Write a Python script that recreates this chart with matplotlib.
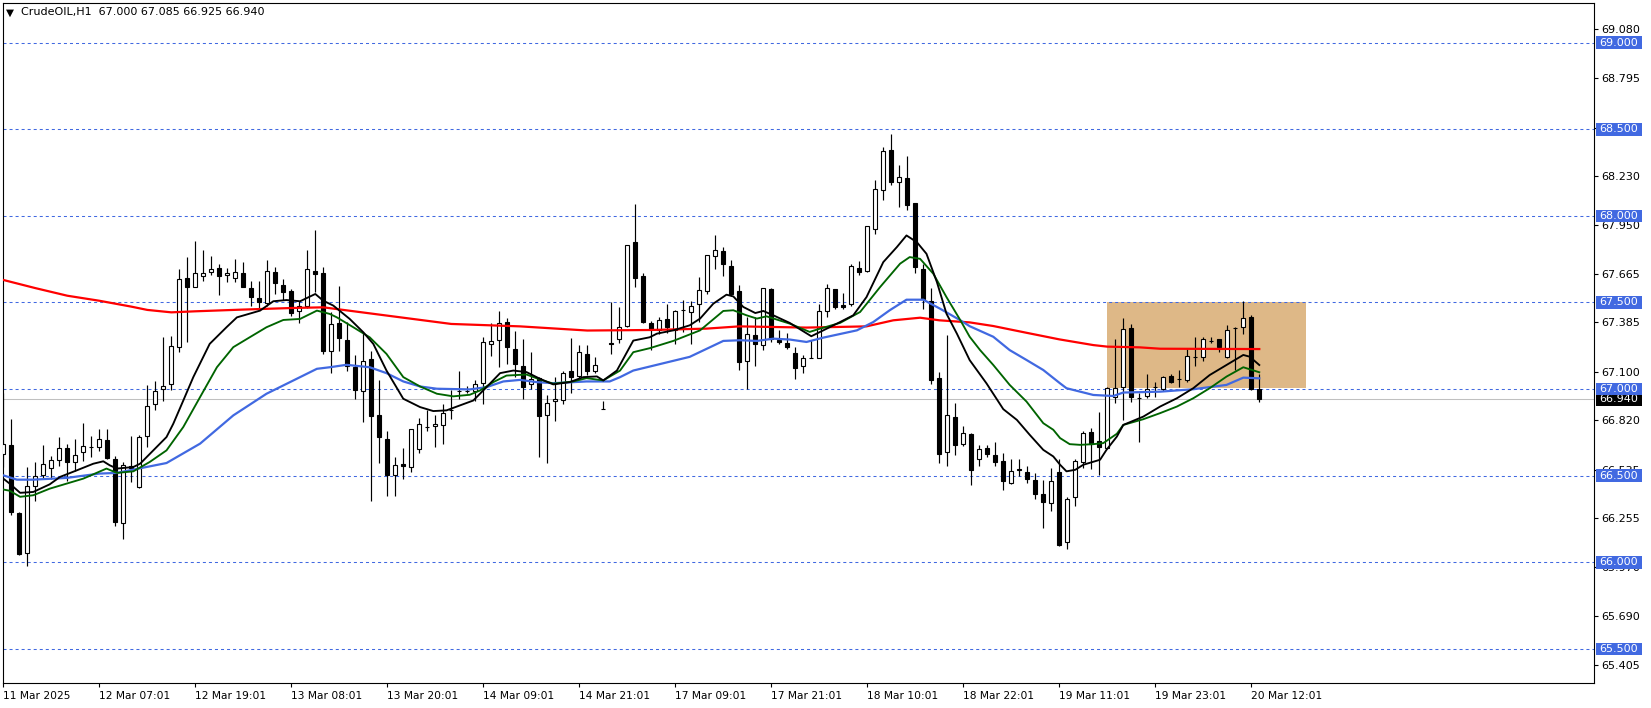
"""CrudeOIL H1 candlestick chart with moving averages, MT4 style."""
import matplotlib
matplotlib.use("Agg")
import matplotlib.pyplot as plt
import matplotlib.transforms as mtransforms
from matplotlib.patches import Rectangle
import numpy as np

# hourly bars, oldest first (11 Mar 19:01 .. 20 Mar 13:01)
OPEN = [66.623, 66.675, 66.285, 66.051, 66.439, 66.504, 66.547, 66.589, 66.658, 66.579,
        66.635, 66.664, 66.667, 66.708, 66.596, 66.224, 66.556, 66.435, 66.731, 66.915,
        66.998, 67.027, 67.245, 67.641, 67.587, 67.652, 67.677, 67.699, 67.660, 67.639,
        67.672, 67.583, 67.526, 67.499, 67.677, 67.603, 67.568, 67.453, 67.482, 67.683,
        67.670, 67.219, 67.382, 67.284, 67.126, 66.988, 67.174, 66.848, 66.710, 66.502,
        66.569, 66.550, 66.654, 66.781, 66.787, 66.794, 66.881, 66.988, 66.988, 66.986,
        67.034, 67.261, 67.284, 67.387, 67.232, 67.134, 67.027, 67.065, 66.852, 66.932,
        66.938, 67.103, 67.076, 67.203, 67.105, 66.886, 67.265, 67.290, 67.362, 67.852,
        67.651, 67.384, 67.343, 67.407, 67.343, 67.455, 67.445, 67.489, 67.566, 67.770,
        67.795, 67.712, 67.564, 67.163, 67.314, 67.257, 67.579, 67.286, 67.268, 67.211,
        67.132, 67.180, 67.182, 67.449, 67.579, 67.487, 67.489, 67.699, 67.681, 67.925,
        68.150, 68.380, 68.194, 68.219, 68.073, 67.695, 67.508, 67.065, 66.639, 66.836,
        66.684, 66.742, 66.596, 66.659, 66.617, 66.586, 66.457, 66.540, 66.524, 66.477,
        66.394, 66.342, 66.521, 66.116, 66.377, 66.578, 66.755, 66.703, 66.659, 66.957,
        67.014, 67.350, 66.951, 66.960, 67.014, 67.000, 67.076, 67.056, 67.053, 67.183,
        67.183, 67.279, 67.287, 67.183, 67.350, 67.356, 67.414, 67.000]
HIGH = [66.980, 66.825, 66.290, 66.550, 66.579, 66.679, 66.612, 66.721, 66.685, 66.714,
        66.806, 66.731, 66.769, 66.769, 66.614, 66.579, 66.731, 66.733, 67.026, 67.044,
        67.303, 67.305, 67.693, 67.764, 67.856, 67.804, 67.768, 67.722, 67.700, 67.750,
        67.735, 67.626, 67.626, 67.745, 67.706, 67.635, 67.578, 67.510, 67.802, 67.917,
        67.706, 67.443, 67.597, 67.386, 67.194, 67.328, 67.222, 67.050, 66.758, 66.608,
        66.660, 66.771, 66.835, 66.880, 66.852, 66.915, 66.996, 67.107, 67.020, 67.053,
        67.299, 67.382, 67.453, 67.409, 67.337, 67.288, 67.215, 67.069, 66.963, 67.069,
        67.107, 67.295, 67.257, 67.255, 67.184, 66.930, 67.501, 67.472, 67.831, 68.067,
        67.670, 67.393, 67.416, 67.489, 67.455, 67.516, 67.507, 67.647, 67.775, 67.887,
        67.820, 67.747, 67.599, 67.416, 67.416, 67.585, 67.585, 67.340, 67.326, 67.243,
        67.195, 67.282, 67.489, 67.604, 67.580, 67.556, 67.724, 67.737, 67.944, 68.209,
        68.396, 68.472, 68.294, 68.348, 68.073, 67.720, 67.585, 67.100, 67.311, 66.917,
        66.788, 66.749, 66.678, 66.678, 66.694, 66.630, 66.596, 66.596, 66.553, 66.515,
        66.477, 66.544, 66.596, 66.377, 66.596, 66.759, 66.774, 66.870, 67.014, 67.287,
        67.408, 67.375, 66.976, 67.085, 67.043, 67.076, 67.085, 67.110, 67.229, 67.298,
        67.298, 67.298, 67.287, 67.370, 67.360, 67.508, 67.427, 67.085]
LOW = [66.550, 66.272, 66.040, 65.980, 66.354, 66.479, 66.483, 66.556, 66.470, 66.527,
       66.585, 66.606, 66.640, 66.598, 66.210, 66.132, 66.464, 66.430, 66.666, 66.877,
       66.934, 66.996, 67.213, 67.270, 67.587, 67.626, 67.660, 67.541, 67.620, 67.620,
       67.587, 67.480, 67.470, 67.480, 67.549, 67.514, 67.420, 67.380, 67.470, 67.558,
       67.203, 67.092, 67.220, 67.103, 66.940, 66.810, 66.354, 66.573, 66.383, 66.385,
       66.483, 66.519, 66.631, 66.760, 66.665, 66.681, 66.830, 66.944, 66.975, 66.934,
       66.911, 67.190, 67.126, 67.146, 67.067, 66.940, 67.002, 66.608, 66.573, 66.815,
       66.915, 66.980, 67.060, 67.080, 67.092, 66.886, 67.203, 67.265, 67.360, 67.591,
       67.382, 67.224, 67.320, 67.326, 67.263, 67.330, 67.263, 67.387, 67.550, 67.695,
       67.652, 67.540, 67.113, 66.998, 67.134, 67.224, 67.272, 67.263, 67.234, 67.061,
       67.094, 67.180, 67.180, 67.416, 67.464, 67.464, 67.480, 67.656, 67.675, 67.896,
       68.092, 68.180, 68.050, 68.031, 67.670, 67.464, 67.032, 66.575, 66.558, 66.619,
       66.672, 66.446, 66.553, 66.607, 66.553, 66.415, 66.450, 66.496, 66.457, 66.365,
       66.198, 66.294, 66.092, 66.077, 66.327, 66.544, 66.540, 66.505, 66.659, 66.918,
       66.822, 66.928, 66.692, 66.947, 66.957, 66.990, 67.033, 67.014, 67.040, 67.135,
       67.164, 67.264, 67.216, 67.180, 67.110, 67.318, 66.995, 66.925]
CLOSE = [66.685, 66.291, 66.045, 66.443, 66.500, 66.569, 66.593, 66.662, 66.579, 66.621,
         66.671, 66.664, 66.713, 66.602, 66.230, 66.562, 66.545, 66.723, 66.902, 66.986,
         67.019, 67.251, 67.635, 67.591, 67.670, 67.668, 67.693, 67.650, 67.672, 67.677,
         67.587, 67.530, 67.500, 67.683, 67.610, 67.560, 67.439, 67.482, 67.693, 67.664,
         67.219, 67.376, 67.293, 67.136, 66.996, 67.163, 66.844, 66.723, 66.502, 66.564,
         66.556, 66.767, 66.800, 66.781, 66.800, 66.863, 66.881, 66.988, 66.988, 67.030,
         67.272, 67.278, 67.382, 67.242, 67.144, 67.011, 67.059, 66.844, 66.919, 66.944,
         67.094, 67.069, 67.213, 67.103, 67.140, 66.886, 67.258, 67.357, 67.831, 67.639,
         67.387, 67.345, 67.401, 67.359, 67.451, 67.455, 67.478, 67.574, 67.775, 67.804,
         67.724, 67.547, 67.157, 67.320, 67.263, 67.585, 67.291, 67.272, 67.243, 67.119,
         67.182, 67.180, 67.451, 67.585, 67.474, 67.474, 67.708, 67.676, 67.939, 68.156,
         68.372, 68.194, 68.223, 68.065, 67.704, 67.518, 67.055, 66.625, 66.850, 66.677,
         66.745, 66.530, 66.653, 66.624, 66.578, 66.467, 66.528, 66.530, 66.482, 66.394,
         66.348, 66.471, 66.102, 66.367, 66.586, 66.745, 66.682, 66.663, 67.005, 67.005,
         67.344, 66.953, 66.951, 67.000, 67.014, 67.072, 67.043, 67.056, 67.193, 67.183,
         67.287, 67.279, 67.241, 67.341, 67.350, 67.408, 66.999, 66.940]

# moving averages (bar index, price)
RED_X = [0, 4, 8, 12, 16, 18, 21, 24, 30, 36, 40, 48, 56, 64.6, 73, 80.8, 87.9, 92,
         100.4, 107.9, 111.25, 114.6, 117, 120.8, 123.75, 127.9, 132, 136.25, 138, 142,
         144.6, 157]
RED_Y = [67.630, 67.583, 67.539, 67.510, 67.476, 67.457, 67.443, 67.449, 67.459, 67.468,
         67.472, 67.424, 67.376, 67.362, 67.338, 67.341, 67.349, 67.362, 67.355, 67.362,
         67.397, 67.412, 67.397, 67.385, 67.364, 67.325, 67.287, 67.254, 67.245, 67.241,
         67.233, 67.231]

BLUE_X = [0, 1.7, 3.75, 7.9, 12, 14.2, 16.25, 20.4, 24.6, 28.75, 32.9, 37.1, 39.2, 40.8,
          42.9, 45.8, 47.9, 50, 52.1, 54.2, 58.3, 60.4, 62.5, 64.6, 66.7, 68.75, 72.9,
          75.8, 77.1, 78.75, 80.8, 85.8, 90, 92.1, 94.2, 96.25, 98.3, 100.4, 102.5, 106.7,
          108.75, 110.8, 112.9, 115, 117.1, 119.6, 120.8, 123.75, 125.8, 127.9, 130, 132.1,
          132.9, 136.25, 138.75, 140, 144.6, 148.75, 152.9, 155, 157]
BLUE_Y = [66.502, 66.477, 66.477, 66.487, 66.512, 66.516, 66.535, 66.573, 66.685, 66.848,
          66.973, 67.069, 67.117, 67.126, 67.140, 67.126, 67.092, 67.044, 67.015, 67.002,
          66.998, 67.011, 67.044, 67.053, 67.040, 67.034, 67.044, 67.044, 67.069, 67.107,
          67.130, 67.186, 67.278, 67.282, 67.278, 67.291, 67.286, 67.272, 67.297, 67.339,
          67.387, 67.455, 67.516, 67.516, 67.464, 67.398, 67.363, 67.302, 67.225, 67.168,
          67.110, 67.033, 67.005, 66.966, 66.960, 66.980, 66.985, 66.999, 67.024, 67.066,
          67.062]

GREEN_X = [0, 0.8, 2.1, 3.75, 5.8, 7.9, 10, 12.1, 12.9, 14.2, 16.25, 18.3, 20.4, 22.5,
           24.6, 26.7, 28.75, 30.8, 32.9, 35, 37.1, 39.2, 40.8, 41.7, 43.75, 45.8, 47.9,
           50, 52.1, 54.2, 56.25, 58.3, 59.6, 61.25, 62.9, 65.4, 67.1, 68.75, 71.25, 72.9,
           75, 77.1, 78.75, 80.8, 83.75, 87.1, 90, 91.25, 92.9, 94.2, 95.4, 98.3, 100.8,
           102.1, 104.6, 107.1, 109.6, 112.1, 113.3, 114.6, 116.25, 117.9, 119.6, 120.8,
           122.1, 123.75, 125.8, 127.9, 130, 131.25, 132.1, 133.3, 134.6, 136.25, 137.5,
           139.2, 140, 142.5, 144.6, 146.7, 148.75, 150.8, 152.9, 155, 157]
GREEN_Y = [66.420, 66.413, 66.378, 66.387, 66.425, 66.454, 66.483, 66.525, 66.541, 66.516,
           66.525, 66.579, 66.646, 66.781, 66.954, 67.126, 67.242, 67.299, 67.357, 67.399,
           67.405, 67.453, 67.434, 67.414, 67.357, 67.299, 67.203, 67.069, 67.015, 66.973,
           66.958, 66.967, 66.992, 67.040, 67.078, 67.084, 67.055, 67.031, 67.044, 67.063,
           67.050, 67.107, 67.213, 67.236, 67.278, 67.339, 67.451, 67.455, 67.426, 67.407,
           67.420, 67.378, 67.330, 67.349, 67.382, 67.445, 67.589, 67.724, 67.762, 67.752,
           67.666, 67.531, 67.400, 67.302, 67.225, 67.139, 67.024, 66.928, 66.803, 66.765,
           66.717, 66.682, 66.678, 66.682, 66.688, 66.742, 66.793, 66.826, 66.861, 66.899,
           66.947, 67.005, 67.072, 67.126, 67.097]

BLACK_X = [0, 0.8, 2.1, 3.75, 5.8, 7.1, 9.2, 11.25, 12.5, 13.3, 14.2, 16.25, 17.1, 18.75,
           20.4, 21.25, 22.5, 23.75, 25.8, 27.9, 29.2, 32.1, 33.75, 35.4, 37.1, 39, 40,
           41.25, 43.3, 45, 46.25, 47.9, 50, 52.1, 53.75, 55.4, 57.1, 58.75, 60.4, 62.1,
           63.75, 65.4, 67.1, 68.75, 70.8, 72.5, 74.2, 75, 76.7, 78.75, 80.8, 81.7, 83.75,
           85.8, 87.1, 88.75, 90.4, 91.25, 92.5, 94, 95, 96.25, 98.3, 101, 102.5, 104.6,
           106.25, 107.9, 110, 111.7, 112.9, 114.2, 115.4, 116.7, 117.9, 119.2, 120.8,
           122.9, 125, 126.7, 128.3, 130, 131.25, 132.1, 132.9, 134, 135, 137.1, 137.9,
           139.2, 140, 142.5, 144.6, 146.7, 148.75, 150.8, 152.9, 155, 155.8, 157]
BLACK_Y = [66.483, 66.454, 66.401, 66.406, 66.450, 66.493, 66.531, 66.569, 66.583, 66.560,
           66.541, 66.550, 66.569, 66.646, 66.723, 66.800, 66.934, 67.069, 67.261, 67.357,
           67.414, 67.453, 67.507, 67.514, 67.507, 67.549, 67.510, 67.482, 67.405, 67.328,
           67.261, 67.107, 66.944, 66.896, 66.873, 66.877, 66.906, 66.934, 67.011, 67.092,
           67.107, 67.098, 67.059, 67.027, 67.040, 67.069, 67.073, 67.050, 67.107, 67.280,
           67.299, 67.320, 67.339, 67.368, 67.407, 67.493, 67.545, 67.535, 67.474, 67.439,
           67.451, 67.426, 67.382, 67.305, 67.339, 67.387, 67.426, 67.531, 67.733, 67.820,
           67.887, 67.848, 67.781, 67.618, 67.435, 67.320, 67.167, 67.033, 66.884, 66.822,
           66.736, 66.649, 66.611, 66.563, 66.525, 66.534, 66.563, 66.592, 66.649, 66.726,
           66.793, 66.841, 66.899, 66.947, 67.005, 67.081, 67.139, 67.197, 67.187, 67.139]

TIME_TICKS = [0, 12, 24, 36, 48, 60, 72, 84, 96, 108, 120, 132, 144, 156]
TIME_LABELS = ["11 Mar 2025", "12 Mar 07:01", "12 Mar 19:01", "13 Mar 08:01",
               "13 Mar 20:01", "14 Mar 09:01", "14 Mar 21:01", "17 Mar 09:01",
               "17 Mar 21:01", "18 Mar 10:01", "18 Mar 22:01", "19 Mar 11:01",
               "19 Mar 23:01", "20 Mar 12:01"]
PRICE_TICKS = [69.080, 68.795, 68.510, 68.230, 67.950, 67.665, 67.385, 67.100,
               66.820, 66.535, 66.255, 65.970, 65.690, 65.405]
LEVELS = [69.0, 68.5, 68.0, 67.5, 67.0, 66.5, 66.0, 65.5]
BID = 66.940
HEADER = "CrudeOIL,H1  67.000 67.085 66.925 66.940"

W, H = 1651, 708
ROYAL = "#4169E1"

fig = plt.figure(figsize=(W / 100, H / 100), dpi=100)
fig.patch.set_facecolor("white")
ax = fig.add_axes([3 / W, 1 - 683 / H, 1591 / W, 680 / H])
ax.set_xlim(-0.0375, 198.84)
ax.set_ylim(65.303, 69.229)

# zone box (background)
ax.add_patch(Rectangle((137.95, 67.008), 24.85, 0.492, facecolor="#DEB887",
                       edgecolor="none", zorder=1))

for lv in LEVELS:
    ax.axhline(lv, color=ROYAL, lw=0.75, ls=(0, (2.9, 2.9)), zorder=1.6)
ax.axhline(BID, color="#C0C0C0", lw=0.75, zorder=1.5)

# candles
x = np.arange(len(OPEN))
o = np.array(OPEN)
c = np.array(CLOSE)
ax.vlines(x, LOW, HIGH, color="black", lw=0.85, zorder=2)
up = c >= o
ax.bar(x, np.abs(c - o), bottom=np.minimum(o, c), width=0.5,
       color=np.where(up, "white", "black"), edgecolor="black", linewidth=0.8, zorder=3)

# moving averages
ax.plot(RED_X, RED_Y, color="#FF0000", lw=1.6, zorder=4)
ax.plot(BLUE_X, BLUE_Y, color=ROYAL, lw=1.6, zorder=4)
ax.plot(GREEN_X, GREEN_Y, color="#006400", lw=1.35, zorder=4)
ax.plot(BLACK_X, BLACK_Y, color="black", lw=1.35, zorder=4)

for s in ax.spines.values():
    s.set_color("black")
    s.set_linewidth(0.8)

ax.set_xticks(TIME_TICKS)
ax.set_xticklabels(TIME_LABELS, ha="left", fontsize=7.7)
ax.tick_params(axis="x", length=3, width=0.8, pad=2.5, direction="out")
ax.yaxis.tick_right()
ax.set_yticks(PRICE_TICKS)
ax.set_yticklabels([f"{p:.3f}" for p in PRICE_TICKS], fontsize=8)
ax.tick_params(axis="y", length=3, width=0.8, pad=2, direction="out")

# price tags on the right scale (they sit over the scale labels, as in the terminal)
trans = mtransforms.blended_transform_factory(ax.transAxes, ax.transData)
box_x0 = (1596 - 3) / 1591
box_w = 46 / 1591
box_h = 12.7 / 173.2
txt_x = (1599.5 - 3) / 1591


def tag(price, face, z):
    ax.add_patch(Rectangle((box_x0, price - box_h / 2), box_w, box_h, transform=trans,
                           facecolor=face, edgecolor="none", clip_on=False, zorder=z))
    ax.text(txt_x, price, f"{price:.3f}", transform=trans, fontsize=8, color="white",
            ha="left", va="center", clip_on=False, zorder=z + 0.1)


tag(BID, "black", 10)
for lv in LEVELS:
    tag(lv, ROYAL, 11)

fig.text(6 / W, 1 - 12.5 / H, "▼", fontsize=7.5, color="black", ha="left", va="center")
fig.text(21 / W, 1 - 12.5 / H, HEADER, fontsize=8, color="black", ha="left", va="center")

fig.savefig("out.png", dpi=100)
